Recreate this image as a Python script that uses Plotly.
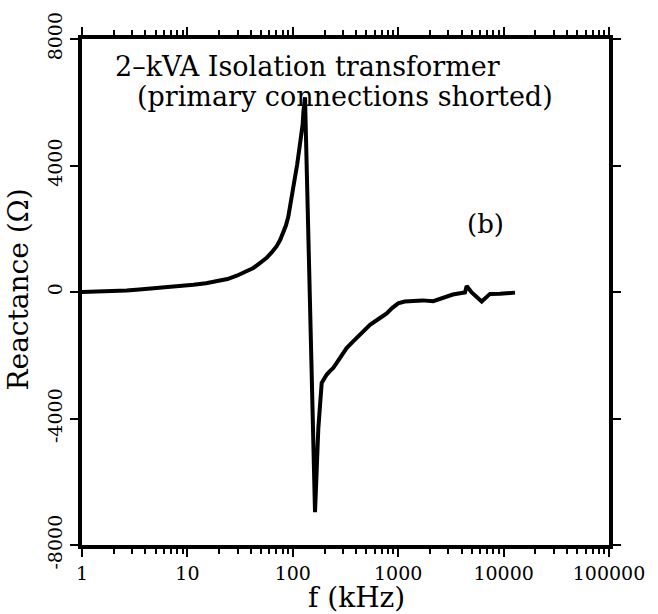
import plotly.graph_objects as go

# Frequency (kHz) and reactance (ohm)
freq_khz = [1.0, 1.5, 2.65, 3.5, 5.5, 8, 11.4, 15, 19, 24, 29.4, 35, 42.2, 48, 56.5, 63, 70.3, 76,
            81.3, 86, 90.6, 95, 101, 105, 110, 115, 121, 124, 126, 130.6,
            162.5, 168, 174.6, 188, 200, 210, 225, 242, 260, 280, 300, 324, 370, 434, 480, 540,
            640, 778, 880, 1000, 1150, 1390, 1700, 2150, 2500, 2880, 3300,
            3860, 4300, 4465, 4980, 6200, 7430, 9250, 12830]
reactance = [0, 10, 50, 80, 130, 180, 230, 280, 330, 410, 515, 620, 760, 900, 1080, 1250, 1450, 1650,
             1860, 2100, 2380, 2750, 3210, 3600, 4030, 4500, 4960, 5300, 5690, 6160,
             -6960, -5560, -4320, -2875, -2700, -2610, -2500, -2400, -2250, -2090, -1950, -1775, -1580, -1360, -1200, -1040,
             -870, -675, -500, -360, -300, -270, -265, -290, -220, -130, -80,
             -40, -15, 190, -15, -300, -60, -55, -20]

x_tick_vals = [1, 10, 100, 1000, 10000, 100000]
x_tick_text = ["1", "10", "100", "1000", "10000", "100000"]
y_tick_vals = [-8000, -4000, 0, 4000, 8000]
y_tick_text = ["-8000", "-4000", "0", "4000", "8000"]
minor_tick_vals = [m * d for d in x_tick_vals[:-1] for m in range(2, 10)]

FONT = "DejaVu Serif"

fig = go.Figure(go.Scatter(x=freq_khz, y=reactance, mode="lines",
                           line=dict(color="black", width=4), showlegend=False))

fig.update_layout(
    width=658, height=614,
    margin=dict(l=82, r=49, t=30, b=69),
    paper_bgcolor="white", plot_bgcolor="white",
    font=dict(family=FONT, color="black"),
    xaxis=dict(type="log", range=[0, 5], tickvals=x_tick_vals, ticktext=x_tick_text,
               ticks="outside", ticklen=8, tickwidth=2, tickcolor="black",
               showline=True, linewidth=4, linecolor="black", mirror="ticks",
               showgrid=False, zeroline=False,
               minor=dict(tickmode="array", tickvals=minor_tick_vals, ticks="outside", ticklen=5,
                          tickwidth=1.5, tickcolor="black", showgrid=False),
               tickfont=dict(family=FONT, size=19, color="black")),
    yaxis=dict(range=[-8000, 8000], tickvals=y_tick_vals, ticktext=y_tick_text, tickangle=-90,
               ticks="outside", ticklen=8, tickwidth=2, tickcolor="black",
               showline=True, linewidth=4, linecolor="black", mirror="ticks",
               showgrid=False, zeroline=False,
               tickfont=dict(family=FONT, size=19, color="black")),
    annotations=[
        dict(text="2–kVA Isolation transformer", xref="paper", yref="paper", x=0.059, y=0.946,
             xanchor="left", yanchor="middle", showarrow=False, font=dict(family=FONT, size=27)),
        dict(text="(primary connections shorted)", xref="paper", yref="paper", x=0.101, y=0.887,
             xanchor="left", yanchor="middle", showarrow=False, font=dict(family=FONT, size=27)),
        dict(text="(b)", xref="paper", yref="paper", x=0.765, y=0.635,
             xanchor="center", yanchor="middle", showarrow=False, font=dict(family=FONT, size=26)),
        dict(text="Reactance (Ω)", xref="paper", yref="paper", x=-0.1214, y=0.505, textangle=-90,
             xanchor="center", yanchor="middle", showarrow=False, font=dict(family=FONT, size=28)),
        dict(text="f (kHz)", xref="paper", yref="paper", x=0.52, y=-0.103,
             xanchor="center", yanchor="middle", showarrow=False, font=dict(family=FONT, size=28)),
    ],
)

fig.write_html("out.html")
